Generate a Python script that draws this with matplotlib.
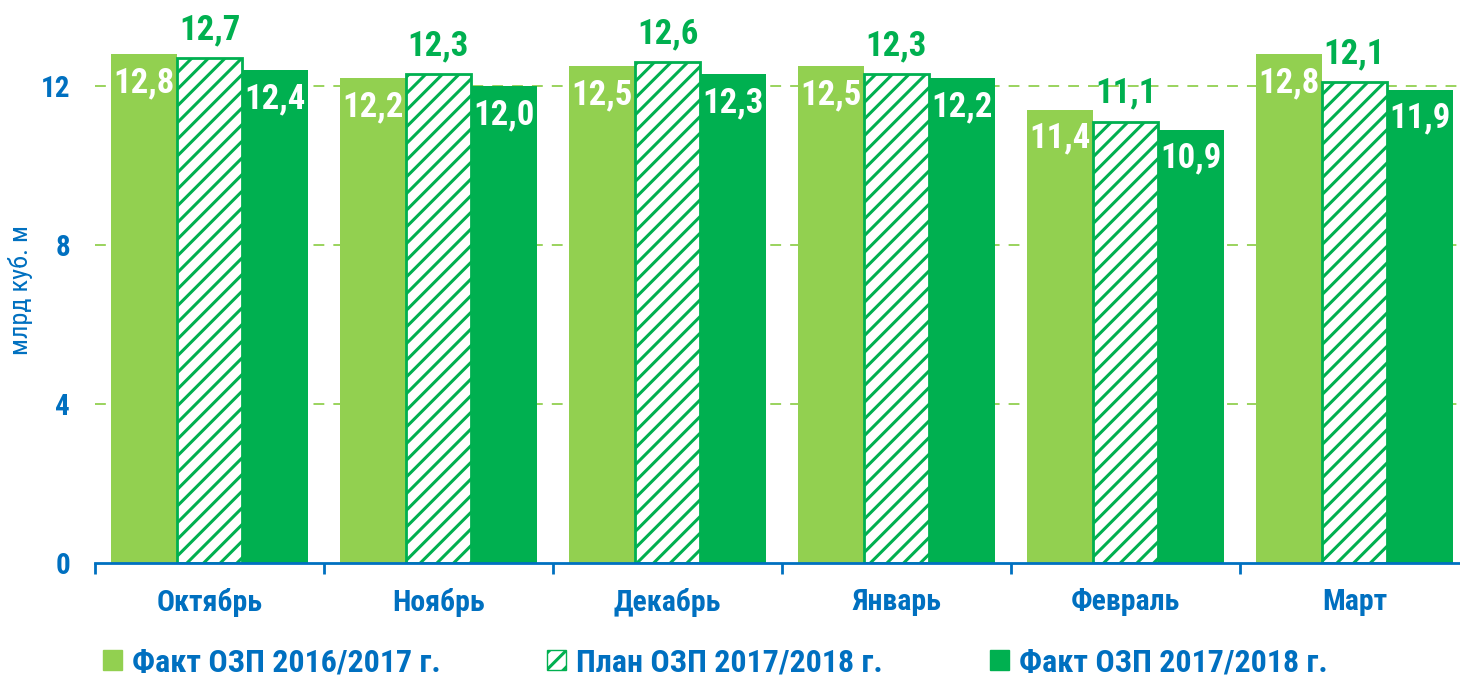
import numpy as np
import matplotlib
matplotlib.use('Agg')
import matplotlib.pyplot as plt
import matplotlib.patches as mpatches
from matplotlib import font_manager

months = ['Октябрь', 'Ноябрь', 'Декабрь', 'Январь', 'Февраль', 'Март']
fact_2016 = [12.8, 12.2, 12.5, 12.5, 11.4, 12.8]
plan_2017 = [12.7, 12.3, 12.6, 12.3, 11.1, 12.1]
fact_2017 = [12.4, 12.0, 12.3, 12.2, 10.9, 11.9]
series_labels = ['Факт ОЗП 2016/2017 г.', 'План ОЗП 2017/2018 г.', 'Факт ОЗП 2017/2018 г.']
y_ticks = [0, 4, 8, 12]

# цвета
LIGHT = '#92D050'
DARK = '#00B050'
BLUE = '#0070C0'

# узкий шрифт, похожий на Arial Narrow
bold_fonts = {f.name for f in font_manager.fontManager.ttflist if f.weight in (700, 'bold')}
FONT = 'Liberation Sans'
for cand in ['Arial Narrow', 'Liberation Sans Narrow', 'Roboto Condensed',
             'PT Sans Narrow', 'Fira Sans Condensed']:
    if cand in bold_fonts:
        FONT = cand
        break
plt.rcParams['font.family'] = [FONT, 'DejaVu Sans']
plt.rcParams['hatch.linewidth'] = 2.2
plt.rcParams['hatch.color'] = DARK

fig = plt.figure(figsize=(14.6, 6.76), dpi=100)
ax = fig.add_axes([95 / 1460, 113 / 676, 1374 / 1460, 557 / 676])

x = np.arange(len(months))
w = 0.288

ax.bar(x - w, fact_2016, w, color=LIGHT, zorder=2)
ax.bar(x, plan_2017, w, facecolor='white', edgecolor=DARK, hatch='//',
       linewidth=2, zorder=2)
ax.bar(x + w, fact_2017, w, color=DARK, zorder=2)

def fmt(v):
    return f'{v:.1f}'.replace('.', ',')

for xi, v in zip(x - w, fact_2016):
    ax.annotate(fmt(v), (xi, v), xytext=(0, -12), textcoords='offset pixels',
                ha='center', va='top', color='white', fontsize=25, fontweight='bold')
for xi, v in zip(x, plan_2017):
    ax.annotate(fmt(v), (xi, v), xytext=(0, 12), textcoords='offset pixels',
                ha='center', va='bottom', color=DARK, fontsize=25, fontweight='bold')
for xi, v in zip(x + w, fact_2017):
    ax.annotate(fmt(v), (xi, v), xytext=(0, -12), textcoords='offset pixels',
                ha='center', va='top', color='white', fontsize=25, fontweight='bold')

ax.set_xlim(-0.5, len(months) - 0.5)
ax.set_ylim(0, 14.01)
ax.set_yticks(y_ticks)
ax.set_yticklabels([str(t) for t in y_ticks], color=BLUE, fontsize=21, fontweight='bold')
ax.tick_params(axis='y', length=0, pad=18)

for t in y_ticks[1:]:
    ax.axhline(t, color=LIGHT, linestyle=(0, (6, 5)), linewidth=1.3, zorder=1)

ax.set_xticks(np.arange(-0.5, len(months)), labels=[''] * (len(months) + 1))
ax.set_xticks(x, labels=months, minor=True)
ax.tick_params(axis='x', which='major', direction='out', length=8, width=2, color=BLUE)
ax.tick_params(axis='x', which='minor', length=0, pad=18, labelsize=21.5, labelcolor=BLUE)
for lbl in ax.get_xticklabels(minor=True):
    lbl.set_fontweight('bold')

for s in ['top', 'right', 'left']:
    ax.spines[s].set_visible(False)
ax.spines['bottom'].set_color(BLUE)
ax.spines['bottom'].set_linewidth(2)

ax.set_ylabel('млрд куб. м', color=BLUE, fontsize=19, fontweight='normal')
ax.yaxis.set_label_coords(-0.045, 0.49)

handles = [
    mpatches.Patch(facecolor=LIGHT, edgecolor=LIGHT, label=series_labels[0]),
    mpatches.Patch(facecolor='white', edgecolor=DARK, hatch='//', label=series_labels[1]),
    mpatches.Patch(facecolor=DARK, edgecolor=DARK, label=series_labels[2]),
]
fig.legend(handles=handles, loc='center left', bbox_to_anchor=(74 / 1460, 14 / 676),
           ncol=3, frameon=False, handlelength=0.6, handleheight=0.6,
           handletextpad=0.3, columnspacing=3.35,
           prop={'family': [FONT, 'DejaVu Sans'], 'weight': 'bold', 'size': 23},
           labelcolor=BLUE)

fig.savefig('out.png', dpi=100)
